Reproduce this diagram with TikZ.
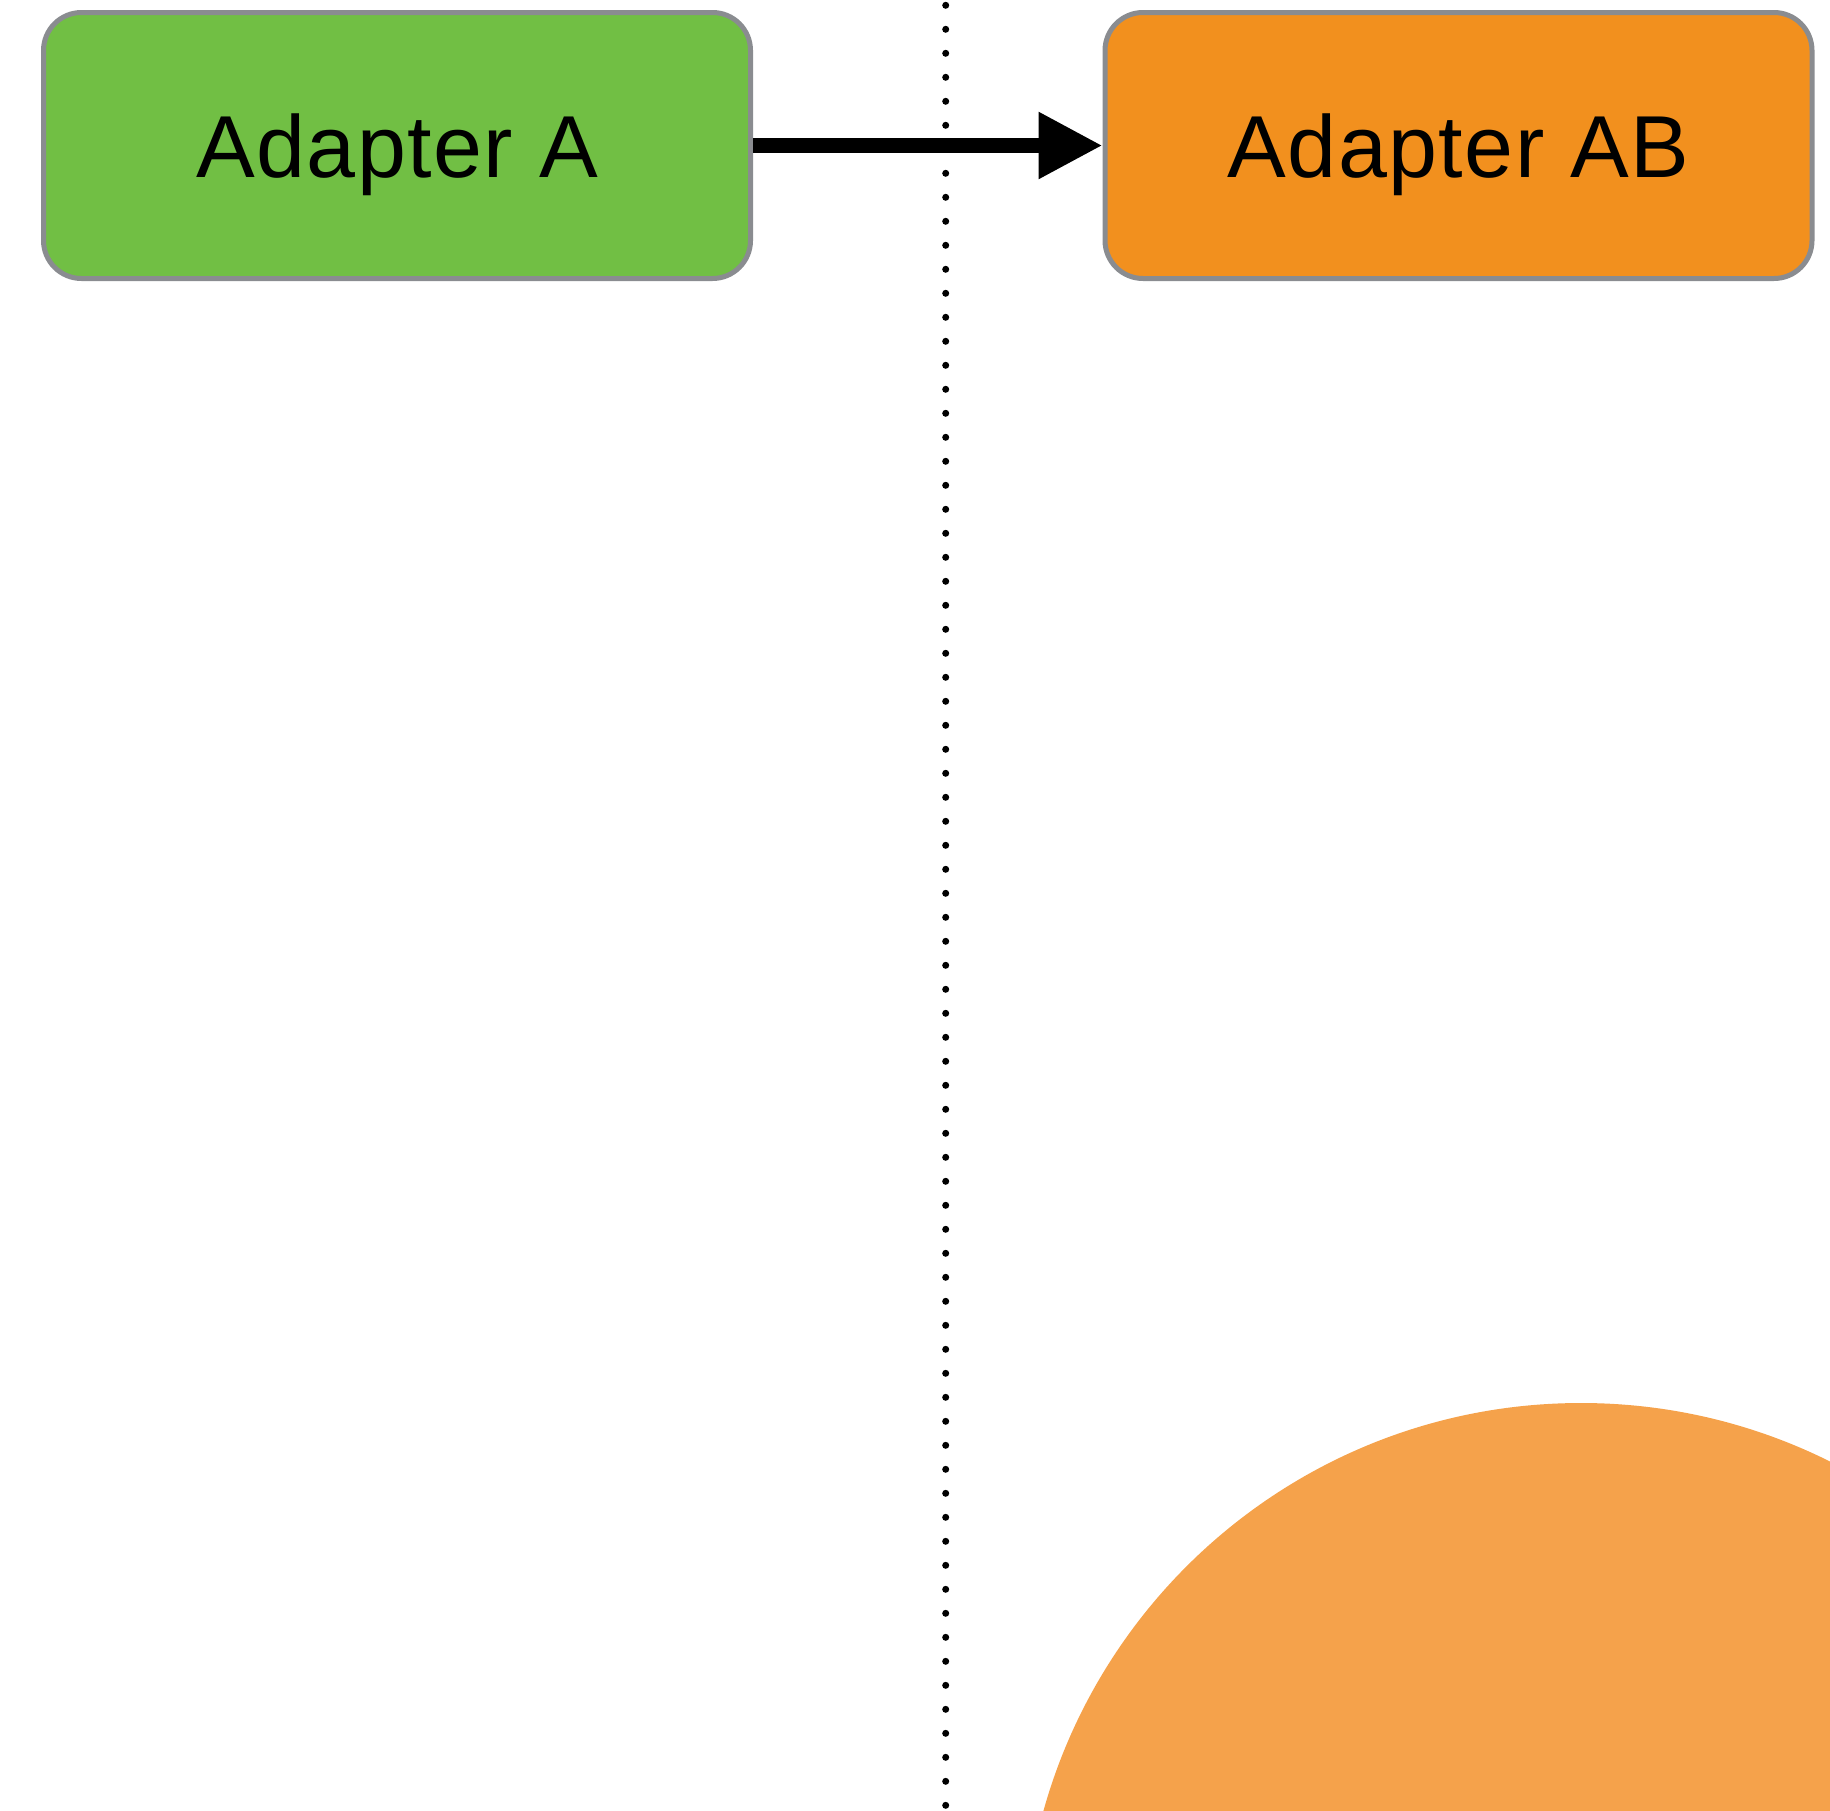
\documentclass[tikz,border=0pt]{standalone}
\usepackage{fontspec}
\setmainfont{Liberation Sans}[LetterSpace=1.7]
\usetikzlibrary{arrows.meta}

\definecolor{adaptgreen}{HTML}{71BF44}
\definecolor{adaptorange}{HTML}{F2901E}
\definecolor{softorange}{HTML}{F5A24B}
\definecolor{boxedge}{HTML}{8A8C90}

\tikzset{
  adapter/.style={draw=boxedge, line width=5pt, rounded corners=38pt,
    minimum width=707pt, minimum height=266pt, inner sep=0pt,
    text height=63pt, text depth=0pt,
    font=\fontsize{88}{100}\selectfont},
  flow/.style={line width=15pt, -{Triangle[length=64pt, width=63pt]}},
  divider/.style={line width=7pt, line cap=round, dash pattern=on 0pt off 24pt}
}

\begin{document}
\begin{tikzpicture}[x=1pt, y=-1pt]
  \useasboundingbox (0,0) rectangle (1830,1810);

  % background disc, partly outside the page
  \begin{scope}
    \clip (0,0) rectangle (1830,1810);
    \fill[softorange] (1581,1961) circle[radius=558];
  \end{scope}

  % vertical separator
  \coordinate (sepTop) at (945.7,5.3);
  \coordinate (sepBot) at (945.7,1812);
  \draw[divider] (sepTop) -- (sepBot);

  % the two adapters
  \node[adapter, fill=adaptgreen] (adA) at (397,145.5) {Adapter A};
  \node[adapter, fill=adaptorange] (adAB) at (1458.5,145.5) {Adapter AB};

  \draw[flow] (adA.east) -- (adAB.west);
\end{tikzpicture}
\end{document}
